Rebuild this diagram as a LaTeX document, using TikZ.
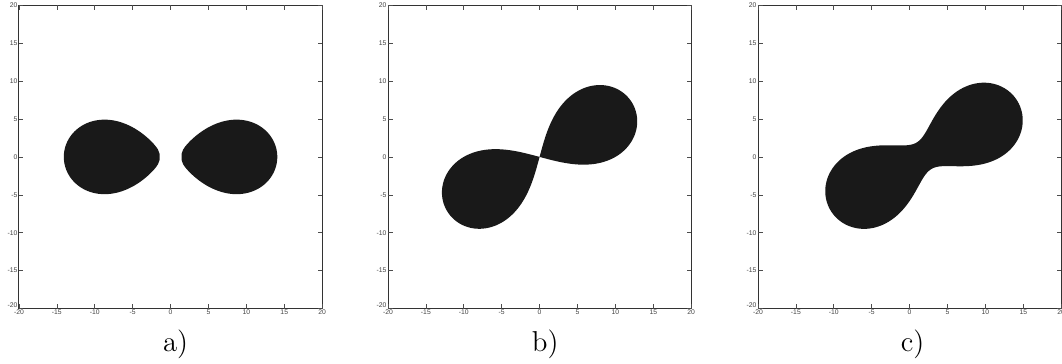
\documentclass[tikz,border=0pt]{standalone}
\usepackage{fontspec}
\newfontfamily\tickfont{Liberation Sans}
\usetikzlibrary{positioning}

\tikzset{framebox/.style={draw=black!80, line width=0.45pt, inner sep=0pt, outer sep=0pt,
    minimum width=151.6pt, minimum height=151.6pt}}
\tikzset{tickmark/.style={draw=black!70, line width=0.3pt}}
\tikzset{ticklbl/.style={font=\tickfont\fontsize{3.4}{4}\selectfont, text=black!75, inner sep=0.6pt}}
\tikzset{blob/.style={fill=black!90}}
\tikzset{panellabel/.style={font=\Large, inner sep=0pt}}

% frame of one plot, axes -20..20, ticks every 5
\newcommand{\plotframe}[1]{%
  \node[framebox] (frame#1) at (0,0) {};
  \foreach \v in {-20,-15,...,20}{
    \draw[tickmark] (\v,-20) -- (\v,-19.4);
    \draw[tickmark] (\v,20) -- (\v,19.4);
    \draw[tickmark] (-20,\v) -- (-19.4,\v);
    \draw[tickmark] (20,\v) -- (19.4,\v);
    \node[ticklbl, below] (xl#1\v) at (\v,-20) {\v};
  }
  \foreach \v in {-15,-10,...,20}{
    \node[ticklbl, left] (yl#1\v) at (-20,\v) {\v};
  }
  \node[ticklbl, left] (yl#1-20) at (-20,-19.5) {-20};
}

\begin{document}
\begin{tikzpicture}[x=3.79pt, y=3.79pt]
\useasboundingbox (-22.5,-27.2) rectangle (117.6,20.7);

% a) two separate ovals
\begin{scope}
\plotframe{a}
\fill[blob] plot[domain=0:360, samples=300, variable=\t]
  ({10*pow(max(1+1.966*cos(\t)+0.966289,0),0.25)*cos(0.5*atan2(0.983*sin(\t),1+0.983*cos(\t)))},
   {10*pow(max(1+1.966*cos(\t)+0.966289,0),0.25)*sin(0.5*atan2(0.983*sin(\t),1+0.983*cos(\t)))}) -- cycle;
\fill[blob, xscale=-1] plot[domain=0:360, samples=300, variable=\t]
  ({10*pow(max(1+1.966*cos(\t)+0.966289,0),0.25)*cos(0.5*atan2(0.983*sin(\t),1+0.983*cos(\t)))},
   {10*pow(max(1+1.966*cos(\t)+0.966289,0),0.25)*sin(0.5*atan2(0.983*sin(\t),1+0.983*cos(\t)))}) -- cycle;
\node[panellabel, below=10.5pt of framea, xshift=2.5pt] (lbla) {a)};
\end{scope}

% b) figure eight
\begin{scope}[xshift=369*0.5pt]
\plotframe{b}
\fill[blob, rotate=30] plot[domain=0:360, samples=300, variable=\t]
  ({14.142*cos(\t)/(1+sin(\t)^2)}, {14.142*sin(\t)*cos(\t)/(1+sin(\t)^2)}) -- cycle;
\node[panellabel, below=10.5pt of frameb, xshift=2.8pt] (lblb) {b)};
\end{scope}

% c) joined peanut
\begin{scope}[xshift=739*0.5pt]
\plotframe{c}
\fill[blob, shift={(1.9,0.15)}, rotate=30] plot[domain=0:360, samples=300, variable=\t]
  ({10*sqrt(cos(2*\t)+sqrt(1.0816-sin(2*\t)^2))*cos(\t)},
   {10*sqrt(cos(2*\t)+sqrt(1.0816-sin(2*\t)^2))*sin(\t)}) -- cycle;
\node[panellabel, below=10.5pt of framec, xshift=1.5pt] (lblc) {c)};
\end{scope}
\end{tikzpicture}
\end{document}
